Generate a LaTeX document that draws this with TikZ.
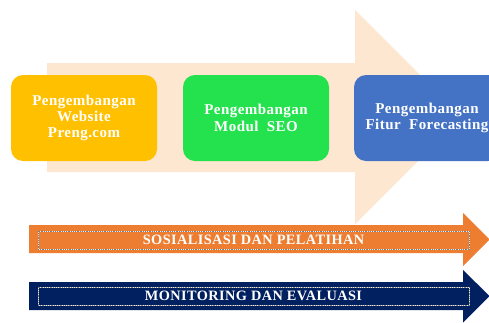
\documentclass[tikz,border=0pt]{standalone}
\usepackage{fontspec}
\setmainfont{Liberation Serif}[LetterSpace=3]
\definecolor{peach}{HTML}{FDE7D0}
\definecolor{boxorange}{HTML}{FFC000}
\definecolor{boxgreen}{HTML}{23E24D}
\definecolor{boxblue}{HTML}{4472C4}
\definecolor{barorange}{HTML}{ED7D31}
\definecolor{barnavy}{HTML}{002060}
\definecolor{dotgray}{HTML}{7F7F7F}
\tikzset{
  stagebox/.style={rectangle, rounded corners=12pt, minimum width=146pt, minimum height=86pt,
    text=white, align=center, font=\bfseries\fontsize{15}{16.3}\selectfont, inner sep=0pt},
  bartext/.style={rectangle, minimum width=431pt, minimum height=18pt, inner sep=0pt,
    text=white, font=\bfseries\fontsize{14.3}{16}\selectfont,
    draw=dotgray, line width=0.9pt, dash pattern=on 0.9pt off 0.9pt,
    preaction={draw=white!85!gray, line width=0.9pt, solid}},
}
\begin{document}
\begin{tikzpicture}[x=1pt,y=-1pt]
\useasboundingbox (0,0) rectangle (489,322);
\clip (0,0) rectangle (489,322);
\fill[white] (0,0) rectangle (489,322);
% big peach arrow
\fill[peach] (47,63) -- (355,63) -- (355,10) -- (462,117) -- (355,224) -- (355,172) -- (47,172) -- cycle;
% stage boxes
\node[stagebox, fill=boxorange] (web) at (84,118) {Pengembangan\\Website\\Preng.com};
\node[stagebox, fill=boxgreen] (seo) at (256,118) {Pengembangan\\Modul~~SEO};
\node[stagebox, fill=boxblue] (fore) at (427,118) {Pengembangan\\Fitur~~Forecasting};
% bottom arrows
\fill[barorange] (29,225) -- (463,225) -- (463,213) -- (489.5,239.5) -- (463,266) -- (463,253) -- (29,253) -- cycle;
\fill[barnavy] (29,282) -- (463,282) -- (463,270) -- (489.5,296) -- (463,322.5) -- (463,310) -- (29,310) -- cycle;
\node[bartext] (sos) at (253.5,240) {SOSIALISASI DAN PELATIHAN};
\node[bartext] (mon) at (253.5,296.3) {MONITORING DAN EVALUASI};
\end{tikzpicture}
\end{document}
